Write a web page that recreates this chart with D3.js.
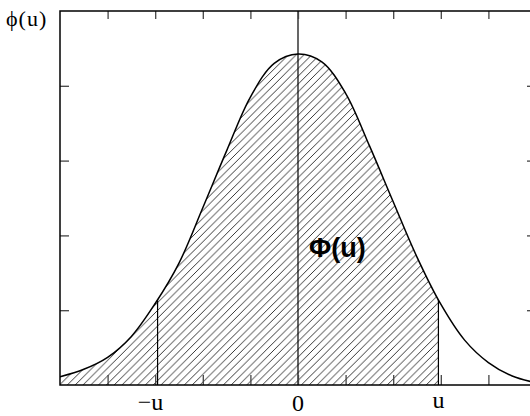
<!DOCTYPE html>
<html>
<head>
<meta charset="utf-8">
<script src="https://cdn.jsdelivr.net/npm/d3@7"></script>
<style>
  html, body { margin: 0; padding: 0; background: #fff; }
  svg { display: block; }
</style>
</head>
<body>
<script>
// Density curve φ(u), sampled along the horizontal axis
const xValues   = [-2.5, -2.25, -2.0, -1.75, -1.5, -1.25, -1.0, -0.75, -0.5, -0.25, 0.0,
                    0.25, 0.5, 0.75, 1.0, 1.25, 1.5, 1.75, 2.0, 2.25, 2.5];
const phiValues = [0.011, 0.021, 0.037, 0.065, 0.109, 0.163, 0.237, 0.313, 0.385, 0.430, 0.4425,
                   0.432, 0.390, 0.320, 0.245, 0.171, 0.108, 0.060, 0.030, 0.012, 0.003];

// Bound of the shaded region and the labels placed on the horizontal axis
const uValue = 1.475;
const xTickValues = [-2, -1.5, -1, -0.5, 0, 0.5, 1, 1.5, 2];
const yTickValues = [0.1, 0.2, 0.3, 0.4];
const axisMarks = [
  { value: -uValue, text: "\u2212u", dx: -7, dy: 410 },
  { value: 0,       text: "0",       dx: 0,  dy: 411 },
  { value: uValue,  text: "u",       dx: 0,  dy: 408 }
];

const W = 530, H = 416;
const svg = d3.select("body").append("svg").attr("width", W).attr("height", H);

const x = d3.scaleLinear().domain([-2.5, 2.5]).range([60, 536]);
const y = d3.scaleLinear().domain([0, 0.5]).range([385, 11]);

const pts = xValues.map((v, i) => [v, phiValues[i]]);

const line = d3.line().x(d => x(d[0])).y(d => y(d[1])).curve(d3.curveCatmullRom.alpha(0.5));
const area = d3.area().x(d => x(d[0])).y0(y(0)).y1(d => y(d[1])).curve(d3.curveCatmullRom.alpha(0.5));

const defs = svg.append("defs");

// Diagonal hatching
const s = 7.8;
defs.append("pattern")
    .attr("id", "hatch")
    .attr("patternUnits", "userSpaceOnUse")
    .attr("width", s).attr("height", s)
  .append("path")
    .attr("d", `M0,${s} L${s},0 M${-s/2},${s/2} L${s/2},${-s/2} M${s/2},${s*1.5} L${s*1.5},${s/2}`)
    .attr("stroke", "#2a2a2a")
    .attr("stroke-width", 0.95)
    .attr("fill", "none");

// Region left of u
defs.append("clipPath").attr("id", "leftOfU")
  .append("rect")
    .attr("x", x(-2.5)).attr("y", 0)
    .attr("width", x(uValue) - x(-2.5)).attr("height", H);

// Region under the curve
defs.append("clipPath").attr("id", "underCurve")
  .append("path").attr("d", area(pts));

// Frame clip
defs.append("clipPath").attr("id", "frame")
  .append("rect").attr("x", 60).attr("y", 11).attr("width", 476).attr("height", 374);

const plot = svg.append("g").attr("clip-path", "url(#frame)");

plot.append("path")
    .attr("d", area(pts))
    .attr("fill", "url(#hatch)")
    .attr("clip-path", "url(#leftOfU)");

// Vertical bounds at ±u, limited to the area under the curve
const bounds = plot.append("g").attr("clip-path", "url(#underCurve)");
bounds.selectAll("line.bound")
  .data([-uValue, uValue])
  .join("line")
    .attr("class", "bound")
    .attr("x1", d => x(d)).attr("x2", d => x(d))
    .attr("y1", y(0)).attr("y2", y(0.5))
    .attr("stroke", "#000").attr("stroke-width", 1.2);

// Centre line at 0
plot.append("line")
    .attr("x1", x(0)).attr("x2", x(0))
    .attr("y1", y(0)).attr("y2", y(0.5))
    .attr("stroke", "#000").attr("stroke-width", 1.2);

plot.append("path")
    .attr("d", line(pts))
    .attr("fill", "none")
    .attr("stroke", "#000")
    .attr("stroke-width", 1.5);

// Axes with inward ticks and no numbers
const tickStyle = g => {
  g.select(".domain").remove();
  g.selectAll(".tick line").attr("stroke", "#444").attr("stroke-width", 1.3);
  g.selectAll(".tick text").remove();
};
svg.append("g").attr("transform", `translate(0,${y(0)})`)
  .call(d3.axisBottom(x).tickValues(xTickValues).tickSize(-10).tickFormat(""))
  .call(tickStyle);
svg.append("g").attr("transform", `translate(0,${y(0.5)})`)
  .call(d3.axisTop(x).tickValues(xTickValues).tickSize(-8).tickFormat(""))
  .call(tickStyle);
svg.append("g").attr("transform", `translate(${x(-2.5)},0)`)
  .call(d3.axisLeft(y).tickValues(yTickValues).tickSize(-9).tickFormat(""))
  .call(tickStyle);
svg.append("g").attr("transform", `translate(${x(2.5)},0)`)
  .call(d3.axisRight(y).tickValues(yTickValues).tickSize(-9).tickFormat(""))
  .call(tickStyle);

// Frame
svg.append("rect")
    .attr("x", x(-2.5)).attr("y", y(0.5))
    .attr("width", x(2.5) - x(-2.5)).attr("height", y(0) - y(0.5))
    .attr("fill", "none").attr("stroke", "#000").attr("stroke-width", 1.5);

// Labels
svg.append("text")
    .attr("x", 6).attr("y", 26)
    .attr("fill", "#000")
    .attr("font-family", "'Liberation Serif', 'DejaVu Serif', serif")
    .attr("font-size", 22)
    .attr("letter-spacing", 1)
    .text("\u03d5(u)");

svg.selectAll("text.mark")
  .data(axisMarks)
  .join("text")
    .attr("class", "mark")
    .attr("x", d => x(d.value) + d.dx)
    .attr("y", d => d.dy)
    .attr("text-anchor", "middle")
    .attr("fill", "#000")
    .attr("font-family", "'Liberation Serif', 'Times New Roman', serif")
    .attr("font-size", 24)
    .text(d => d.text);

svg.append("text")
    .attr("x", 309).attr("y", 257)
    .attr("fill", "#000")
    .attr("font-family", "'Liberation Sans', Arial, sans-serif")
    .attr("font-weight", "bold")
    .attr("font-size", 27)
    .text("\u03a6(u)");
</script>
</body>
</html>
